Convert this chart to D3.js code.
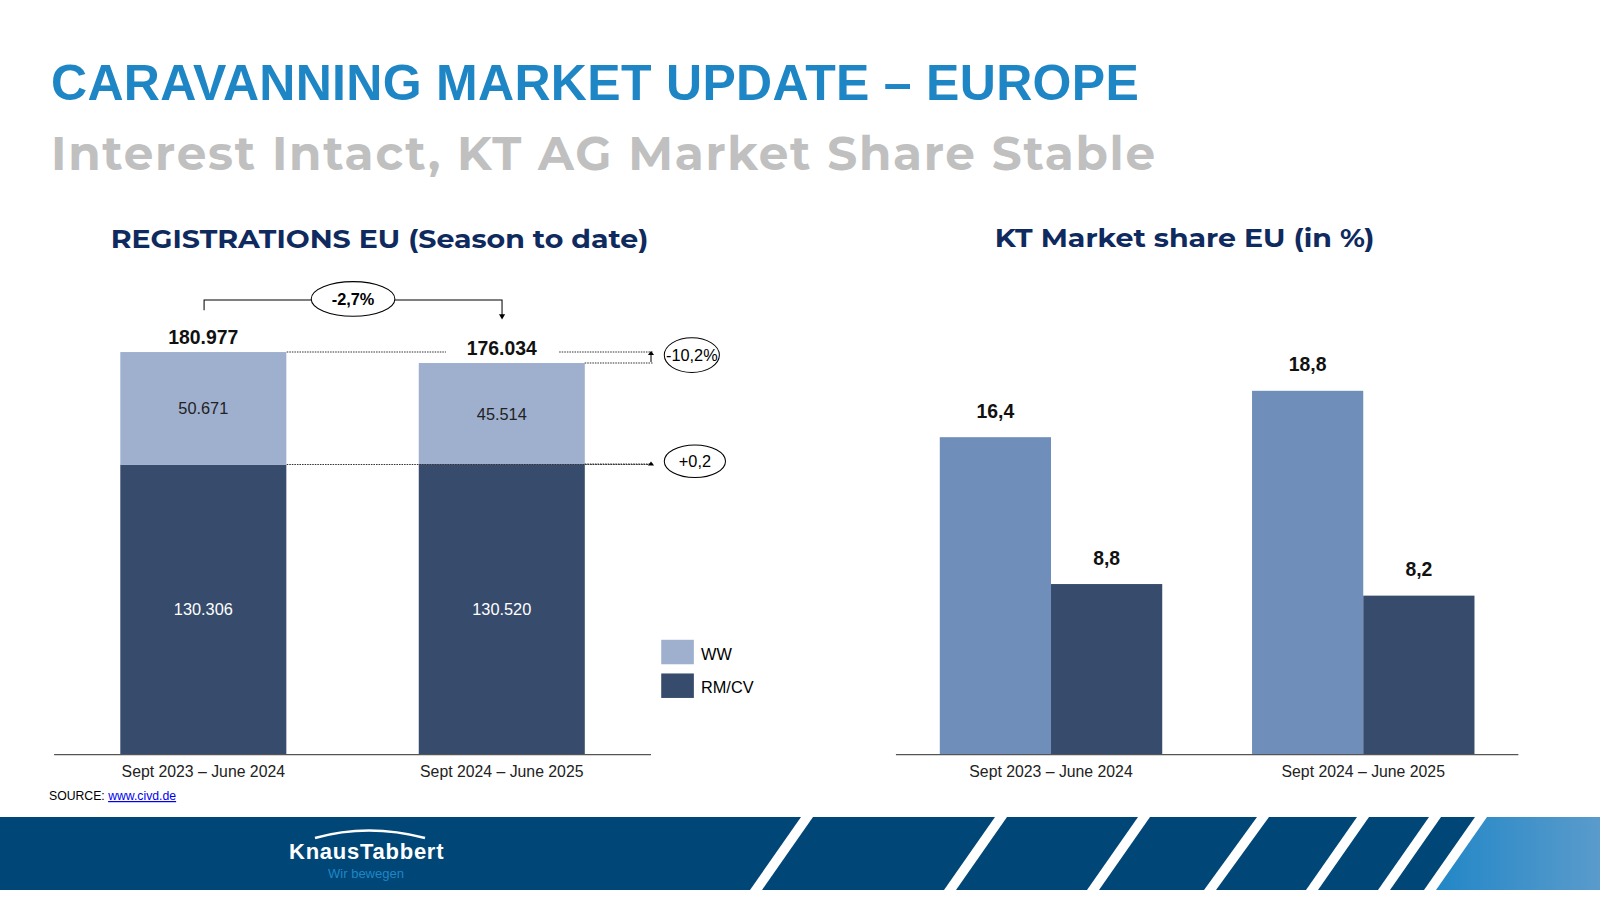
<!DOCTYPE html>
<html><head><meta charset="utf-8">
<script src="https://cdn.jsdelivr.net/npm/d3@7"></script>
<style>body{margin:0;background:#fff}svg{display:block}</style></head>
<body><svg id="c" width="1600" height="900"></svg>
<script>
const periods = ["Sept 2023 – June 2024", "Sept 2024 – June 2025"];
const rmcv = [130306, 130520];
const ww = [50671, 45514];
const totals = [180977, 176034];
const rmcvLabels = ["130.306", "130.520"];
const wwLabels = ["50.671", "45.514"];
const totalLabels = ["180.977", "176.034"];
const shareKT = [16.4, 18.8];
const shareOther = [8.8, 8.2];
const shareLabelsKT = ["16,4", "18,8"];
const shareLabelsOther = ["8,8", "8,2"];

const root = d3.select("#c");
const svg = root.append("g").attr("transform","scale(1.0204)");
const F = "Liberation Sans, Arial, sans-serif";
const M = "Montserrat, 'DejaVu Sans', sans-serif";
const cLight = "#9fb0cf", cDark = "#374c6c", cMid = "#6f8fba";

svg.append("text").attr("x",50).attr("y",98).attr("font-family",F).attr("font-weight","bold").attr("font-size",49).attr("fill","#1f86c6").attr("textLength",1066).text("CARAVANNING MARKET UPDATE – EUROPE");
svg.append("text").attr("x",50).attr("y",167).attr("font-family",M).attr("font-weight","bold").attr("font-size",46).attr("fill","#c0c0c0").attr("textLength",1082).text("Interest Intact, KT AG Market Share Stable");
svg.append("text").attr("x",372).attr("y",243).attr("text-anchor","middle").attr("font-family",M).attr("font-weight","bold").attr("font-size",25.5).attr("fill","#0f2a5e").attr("textLength",527).attr("lengthAdjust","spacingAndGlyphs").text("REGISTRATIONS EU (Season to date)");
svg.append("text").attr("x",1161).attr("y",242).attr("text-anchor","middle").attr("font-family",M).attr("font-weight","bold").attr("font-size",25.5).attr("fill","#0f2a5e").attr("textLength",372).attr("lengthAdjust","spacingAndGlyphs").text("KT Market share EU (in %)");

// left chart
const x1 = d3.scaleBand().domain(periods).range([53,638]).paddingInner(130/293).paddingOuter(65/293);
const bw = x1.bandwidth();
const y1 = d3.scaleLinear().domain([0,180977]).range([739,345]);
const g1 = svg.append("g");
periods.forEach((p,i)=>{
  const x = x1(p);
  g1.append("rect").attr("x",x).attr("width",bw).attr("y",y1(rmcv[i])).attr("height",y1(0)-y1(rmcv[i])).attr("fill",cDark);
  g1.append("rect").attr("x",x).attr("width",bw).attr("y",y1(totals[i])).attr("height",y1(rmcv[i])-y1(totals[i])).attr("fill",cLight);
  g1.append("text").attr("x",x+bw/2).attr("y",(y1(rmcv[i])+y1(0))/2+6).attr("text-anchor","middle").attr("font-family",F).attr("font-size",16).attr("fill","#fff").text(rmcvLabels[i]);
  g1.append("text").attr("x",x+bw/2).attr("y",(y1(rmcv[i])+y1(totals[i]))/2+6).attr("text-anchor","middle").attr("font-family",F).attr("font-size",16).attr("fill","#222").text(wwLabels[i]);
  g1.append("text").attr("x",x+bw/2).attr("y",y1(totals[i])-8).attr("text-anchor","middle").attr("font-family",F).attr("font-weight","bold").attr("font-size",19).attr("fill","#111").text(totalLabels[i]);
  g1.append("text").attr("x",x+bw/2).attr("y",761).attr("text-anchor","middle").attr("font-family",F).attr("font-size",15.5).attr("fill","#222").text(p);
});
g1.append("line").attr("x1",53).attr("x2",638).attr("y1",739.5).attr("y2",739.5).attr("stroke","#555").attr("stroke-width",1.2);
const dot = (xa,xb,y)=>g1.append("line").attr("x1",xa).attr("x2",xb).attr("y1",y).attr("y2",y).attr("stroke","#333").attr("stroke-dasharray","1.5,1").attr("stroke-width",1);
dot(281,437,y1(totals[0])); dot(548,640,y1(totals[0]));
dot(573,640,y1(totals[1]));
dot(281,640,y1(rmcv[0])); dot(573,640,y1(rmcv[1]));
g1.append("line").attr("x1",638).attr("x2",638).attr("y1",y1(totals[1])-1).attr("y2",y1(totals[0])+2).attr("stroke","#000");
g1.append("path").attr("d",`M635,${y1(totals[0])+3}L638,${y1(totals[0])-1}L641,${y1(totals[0])+3}Z`).attr("fill","#000");
g1.append("path").attr("d",`M635,${y1(rmcv[0])+1}L638,${y1(rmcv[0])-3}L641,${y1(rmcv[0])+1}Z`).attr("fill","#000");
const ell=(cx,cy,rx,ry,t,b)=>{g1.append("ellipse").attr("cx",cx).attr("cy",cy).attr("rx",rx).attr("ry",ry).attr("fill","#fff").attr("stroke","#000");
 g1.append("text").attr("x",cx).attr("y",cy+6).attr("text-anchor","middle").attr("font-family",F).attr("font-size",16).attr("font-weight",b?"bold":"normal").text(t);};
g1.append("path").attr("d","M200,304V294H492V309").attr("fill","none").attr("stroke","#000");
g1.append("path").attr("d","M489,308L492,313L495,308Z").attr("fill","#000");
ell(346,293,41,17,"-2,7%",true);
ell(678,348,27,17,"-10,2%",false);
ell(681,452,30,16,"+0,2",false);
g1.append("rect").attr("x",648).attr("y",627).attr("width",32).attr("height",24).attr("fill",cLight);
g1.append("rect").attr("x",648).attr("y",660).attr("width",32).attr("height",24).attr("fill",cDark);
g1.append("text").attr("x",687).attr("y",647).attr("font-family",F).attr("font-size",16).text("WW");
g1.append("text").attr("x",687).attr("y",679).attr("font-family",F).attr("font-size",16).text("RM/CV");
const st = svg.append("text").attr("x",48).attr("y",784).attr("font-family",F).attr("font-size",12).attr("fill","#000");
st.append("tspan").text("SOURCE: ");
st.append("tspan").attr("fill","#00e").attr("text-decoration","underline").text("www.civd.de");

// right chart
const x2 = d3.scaleBand().domain(periods).range([878,1488]).paddingInner(88/306).paddingOuter(43/306);
const sub = d3.scaleBand().domain(["kt","other"]).range([0,x2.bandwidth()]);
const y2 = d3.scaleLinear().domain([0,18.8]).range([739,383]);
const g2 = svg.append("g");
periods.forEach((p,i)=>{
  [["kt",shareKT[i],shareLabelsKT[i],cMid],["other",shareOther[i],shareLabelsOther[i],cDark]].forEach(([k,v,l,c])=>{
    const x = x2(p)+sub(k);
    g2.append("rect").attr("x",x).attr("width",sub.bandwidth()).attr("y",y2(v)).attr("height",y2(0)-y2(v)).attr("fill",c);
    g2.append("text").attr("x",x+sub.bandwidth()/2).attr("y",y2(v)-19).attr("text-anchor","middle").attr("font-family",F).attr("font-weight","bold").attr("font-size",19).attr("fill","#111").text(l);
  });
  g2.append("text").attr("x",x2(p)+x2.bandwidth()/2).attr("y",761).attr("text-anchor","middle").attr("font-family",F).attr("font-size",15.5).attr("fill","#222").text(p);
});
g2.append("line").attr("x1",878).attr("x2",1488).attr("y1",739.5).attr("y2",739.5).attr("stroke","#555").attr("stroke-width",1.2);

// footer (real coords)
const defs = root.append("defs");
const gr = defs.append("linearGradient").attr("id","gr").attr("x1","0").attr("x2","1");
gr.append("stop").attr("offset","0").attr("stop-color","#1f86c6");
gr.append("stop").attr("offset","1").attr("stop-color","#5a9bcc");
root.append("rect").attr("x",0).attr("y",817).attr("width",1600).attr("height",73).attr("fill","#004677");
root.append("path").attr("d","M1480,817H1600V890H1428Z").attr("fill","url(#gr)");
const stripesTop=[801,995,1138,1257,1357,1429,1475], stripesBot=[750,944,1087,1204,1306,1378,1424];
stripesTop.forEach((t,i)=>root.append("path").attr("d",`M${t},817H${t+12}L${stripesBot[i]+12},890H${stripesBot[i]}Z`).attr("fill","#fff"));
root.append("path").attr("d","M315,838Q368,823 425,838").attr("fill","none").attr("stroke","#fff").attr("stroke-width",2.5);
root.append("text").attr("x",366).attr("y",859).attr("text-anchor","middle").attr("font-family",F).attr("font-weight","bold").attr("font-size",22).attr("fill","#fff").attr("letter-spacing","-0.5").attr("textLength",154).text("KnausTabbert");
root.append("text").attr("x",366).attr("y",878).attr("text-anchor","middle").attr("font-family",F).attr("font-size",13).attr("fill","#1f86c6").text("Wir bewegen");
</script></body></html>
